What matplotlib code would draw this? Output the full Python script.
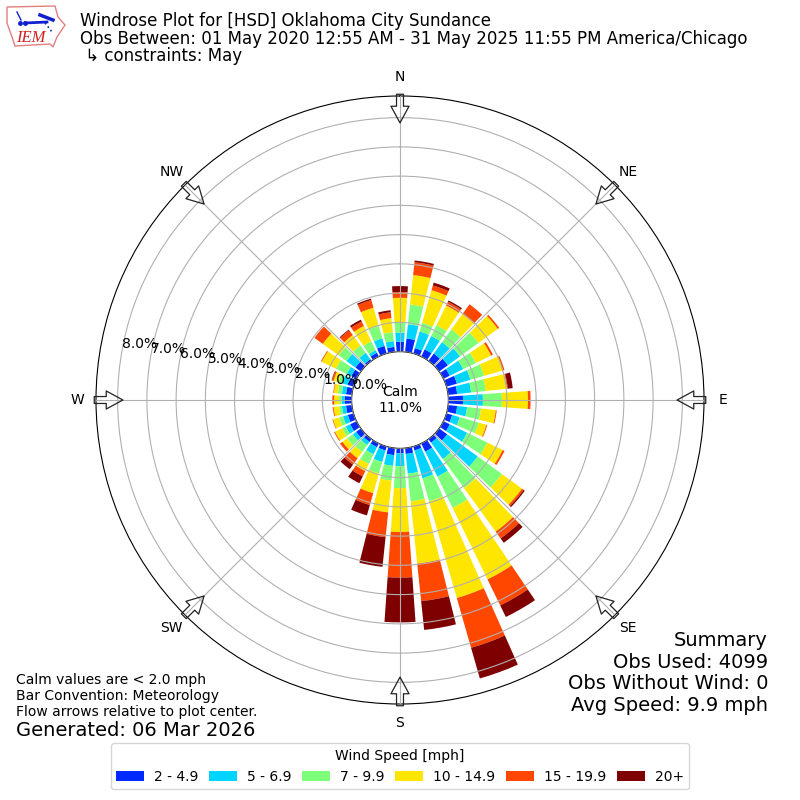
import numpy as np
import matplotlib
matplotlib.use("Agg")
import matplotlib.pyplot as plt
from matplotlib.patches import Polygon

# percent of obs in each bin, direction 0, 10, ... 350
directions = np.arange(0, 360, 10)
s_2_5 = [.34,.46,.19,.27,.31,.37,.24,.37,.31,.50,.31,.20,.24,.34,.15,.31,.14,.20,
         .17,.24,.14,.14,.12,.20,.24,.20,.20,.24,.20,.20,.20,.23,.07,.14,.27,.17]
s_5_7 = [.31,.49,.59,.51,.48,.51,.51,.48,.48,.68,.34,.27,.66,1.29,.69,.95,.99,.68,
         .44,.37,.41,.27,.13,.14,.17,.17,.14,.10,.14,.20,.17,.38,.27,.10,.27,.20]
s_7_10 = [.34,.68,.31,.41,.54,.78,.48,.48,.50,.65,.48,.68,.77,1.02,1.23,1.19,.82,.95,
          .75,.51,.41,.37,.29,.24,.14,.14,.10,.09,.14,.14,.41,.33,.31,.34,.44,.31]
s_10_15 = [.85,1.01,1.16,.75,.65,.82,.58,.68,.73,.89,.51,.27,.58,.85,1.84,2.72,3.44,2.14,
           1.50,1.09,.70,.27,.27,.20,.27,.22,.19,.17,.14,.17,.54,.67,.44,.58,.65,.48]
s_15_20 = [.20,.44,.17,.14,.41,.06,.07,.05,.03,.09,.03,.03,.07,.07,.29,.99,1.77,1.29,
           1.56,.85,.42,.20,.27,.10,.03,.02,.03,.06,.02,.05,.03,.35,.20,.17,.27,.20]
s_20 = [.20,.06,.10,.05,0,0,0,0,.17,0,0,0,0,.05,.18,.44,1.09,.99,
        1.53,1.02,.37,.26,.19,0,0,0,0,0,0,.02,0,0,.03,.07,.05,.07]
bins = [s_2_5, s_5_7, s_7_10, s_10_15, s_15_20, s_20]
labels = ["2 - 4.9", "5 - 6.9", "7 - 9.9", "10 - 14.9", "15 - 19.9", "20+"]
colors = ["#002aff", "#00d4ff", "#7dff7a", "#ffe600", "#ff4700", "#7f0000"]
ring_vals = np.arange(0, 9)
ring_labels = ["%.1f%%" % v for v in ring_vals]
compass = ["N", "NE", "E", "SE", "S", "SW", "W", "NW"]
compass_deg = np.arange(0, 360, 45)

fig = plt.figure(figsize=(8, 8), dpi=100)
ax = fig.add_axes([0.12, 0.12, 0.76, 0.76], projection="polar")
ax.set_theta_zero_location("N")
ax.set_theta_direction(-1)

bottom = np.zeros(len(directions))
for vals, lab, col in zip(bins, labels, colors):
    ax.bar(np.radians(directions), vals, width=np.radians(8), bottom=bottom,
           color=col, label=lab, linewidth=0, zorder=2)
    bottom = bottom + np.array(vals)

ax.set_rorigin(-1.655)
ax.set_rmin(0)
ax.set_rmax(8.74)
ax.set_rgrids(ring_vals, ring_labels, angle=280)
ax.set_thetagrids(compass_deg, compass)
ax.tick_params(axis="x", pad=3)
ax.grid(True, zorder=3)
ax.set_axisbelow(False)

# flow arrows on the compass points
for deg in compass_deg:
    th = np.radians(deg)
    ax.annotate("", xy=(th, 7.82), xytext=(th, 8.8), annotation_clip=False,
                arrowprops=dict(facecolor="none", edgecolor="#222222", linewidth=0.9,
                                width=5, headwidth=13, headlength=12, shrink=0))

ax.text(0.5, 0.5, "Calm\n11.0%", transform=ax.transAxes, ha="center", va="center", fontsize=10)

fig.text(80 / 800, 1 - 38.5 / 800, "Windrose Plot for [HSD] Oklahoma City Sundance\n"
         "Obs Between: 01 May 2020 12:55 AM - 31 May 2025 11:55 PM America/Chicago\n"
         " \u21b3 constraints: May", fontsize=12, va="center", ha="left", linespacing=0.96)
fig.text(16 / 800, 1 - 696 / 800, "Calm values are < 2.0 mph\nBar Convention: Meteorology\n"
         "Flow arrows relative to plot center.", fontsize=10, va="center", ha="left")
fig.text(16 / 800, 1 - 730 / 800, "Generated: 06 Mar 2026", fontsize=14, va="center", ha="left")
fig.text(768 / 800, 1 - 673 / 800, "Summary\nObs Used: 4099\nObs Without Wind: 0\nAvg Speed: 9.9 mph",
         fontsize=14, va="center", ha="right", linespacing=1.19)

fig.legend(loc="lower center", bbox_to_anchor=(0.5, 0.0045), ncol=6, title="Wind Speed [mph]",
           fontsize=10, title_fontsize=10, columnspacing=0.8, handletextpad=0.7)

# logo, rough trace, axes units are pixels
lg = fig.add_axes([0, 0.94, 0.085, 0.06])
lg.set_xlim(0, 68)
lg.set_ylim(48, 0)
lg.axis("off")
outline = [(7, 7), (55, 6), (58, 17), (65, 25), (57, 37), (53, 47), (50, 44), (15, 46), (12, 37), (7, 23)]
lg.add_patch(Polygon(outline, closed=True, fill=False, edgecolor="#e08080", linewidth=1))
lg.plot([25, 47], [23, 22], color="#1020d0", linewidth=2)
lg.plot([17, 21], [12, 20], color="#1020d0", linewidth=1)
lg.plot([40, 53], [15, 20], color="#1020d0", linewidth=2.5)
lg.plot([45, 49, 52], [23, 28, 32], color="#1020d0", linewidth=1.2, linestyle=":")
lg.plot([20, 25], [23, 23], "o", color="#1020d0", markersize=2.5)
lg.text(30.5, 38, "IEM", color="#d02020", fontsize=12, family="Liberation Serif", style="italic",
        ha="center", va="center")

fig.savefig("out.png", dpi=100)
